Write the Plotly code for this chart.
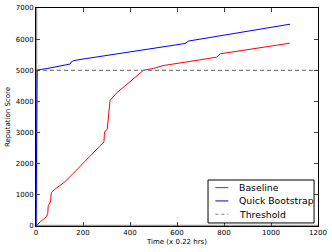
import plotly.graph_objects as go

baseline_x = [0, 20, 45, 50, 52, 56, 62, 64, 66, 80, 100, 120, 160, 200, 240, 289, 291, 294,
              303, 306, 310, 315, 343, 380, 420, 457, 500, 540, 600, 700, 768, 785, 830, 900, 1000, 1080]
baseline_y = [0, 150, 300, 400, 650, 700, 780, 1000, 1080, 1180, 1300, 1400, 1700, 2000, 2300, 2700, 2950, 3050,
              3100, 3350, 3700, 4030, 4270, 4500, 4750, 5000, 5060, 5150, 5220, 5330, 5420, 5530, 5580, 5660, 5770, 5870]

quick_x = [0, 3, 5, 50, 100, 145, 150, 160, 200, 300, 400, 500, 600, 634, 650, 700, 826, 900, 1000, 1081]
quick_y = [0, 4990, 5010, 5060, 5130, 5200, 5270, 5310, 5360, 5470, 5580, 5700, 5810, 5860, 5940, 6000, 6150, 6240, 6360, 6480]

threshold_x = [0, 1200]
threshold_y = [5000, 5000]

x_ticks = [0, 200, 400, 600, 800, 1000, 1200]
y_ticks = [0, 1000, 2000, 3000, 4000, 5000, 6000, 7000]

series_names = ["Baseline", "Quick Bootstrap", "Threshold"]
series_colors = ["#ff0000", "#0000ff", "#808080"]
series_dash = ["solid", "solid", "4px,3px"]

FONT = "DejaVu Sans"

fig = go.Figure()
for xs, ys, name, col, dash in zip([baseline_x, quick_x, threshold_x],
                                   [baseline_y, quick_y, threshold_y],
                                   series_names, series_colors, series_dash):
    fig.add_trace(go.Scatter(x=xs, y=ys, mode="lines", name=name, showlegend=False,
                             line=dict(color=col, width=1.2 if dash != "solid" else 1, dash=dash)))

# gray thick lines along x=0 and y=0
fig.add_shape(type="line", xref="x", yref="paper", x0=0, x1=0, y0=0, y1=1,
              line=dict(color="#999999", width=2.5), layer="below")
fig.add_shape(type="line", xref="paper", yref="y", x0=0, x1=1, y0=0, y1=0,
              line=dict(color="#999999", width=2.5), layer="below")

# compact legend box (matplotlib-style)
fig.add_shape(type="rect", xref="paper", yref="paper", x0=0.610, x1=0.986, y0=0.014, y1=0.211,
              line=dict(color="black", width=1), fillcolor="white", layer="above")
row_y = [0.176, 0.115, 0.054]
for ry, name, col, dash in zip(row_y, series_names, series_colors, series_dash):
    fig.add_shape(type="line", xref="paper", yref="paper", x0=0.636, x1=0.682, y0=ry, y1=ry,
                  line=dict(color=col, width=1.2 if dash != "solid" else 1,
                            dash="3px,3px" if dash != "solid" else "solid"), layer="above")
    fig.add_annotation(xref="paper", yref="paper", x=0.713, y=ry, text=name, showarrow=False,
                       xanchor="left", yanchor="middle", font=dict(family=FONT, size=9.3, color="black"))

fig.update_layout(
    width=332, height=252,
    margin=dict(l=36, r=14, t=8, b=26, autoexpand=False),
    paper_bgcolor="white", plot_bgcolor="white",
    font=dict(family=FONT, size=7, color="black"),
    showlegend=False,
)
fig.update_xaxes(range=[0, 1200], tickvals=x_ticks, ticks="inside", ticklen=4,
                 showline=True, linecolor="black", linewidth=1, mirror="ticks",
                 showgrid=False, zeroline=False, automargin=False,
                 title=dict(text="Time (x 0.22 hrs)", font=dict(size=7), standoff=2),
                 tickfont=dict(size=7))
fig.update_yaxes(range=[0, 7000], tickvals=y_ticks, ticks="inside", ticklen=4,
                 showline=True, linecolor="black", linewidth=1, mirror="ticks",
                 showgrid=False, zeroline=False, automargin=False,
                 title=dict(text="Reputation Score", font=dict(size=7), standoff=4),
                 tickfont=dict(size=7))

fig.write_html("out.html", config={"displayModeBar": False},
               post_script="document.body.style.margin='0';document.body.style.overflow='hidden';")
